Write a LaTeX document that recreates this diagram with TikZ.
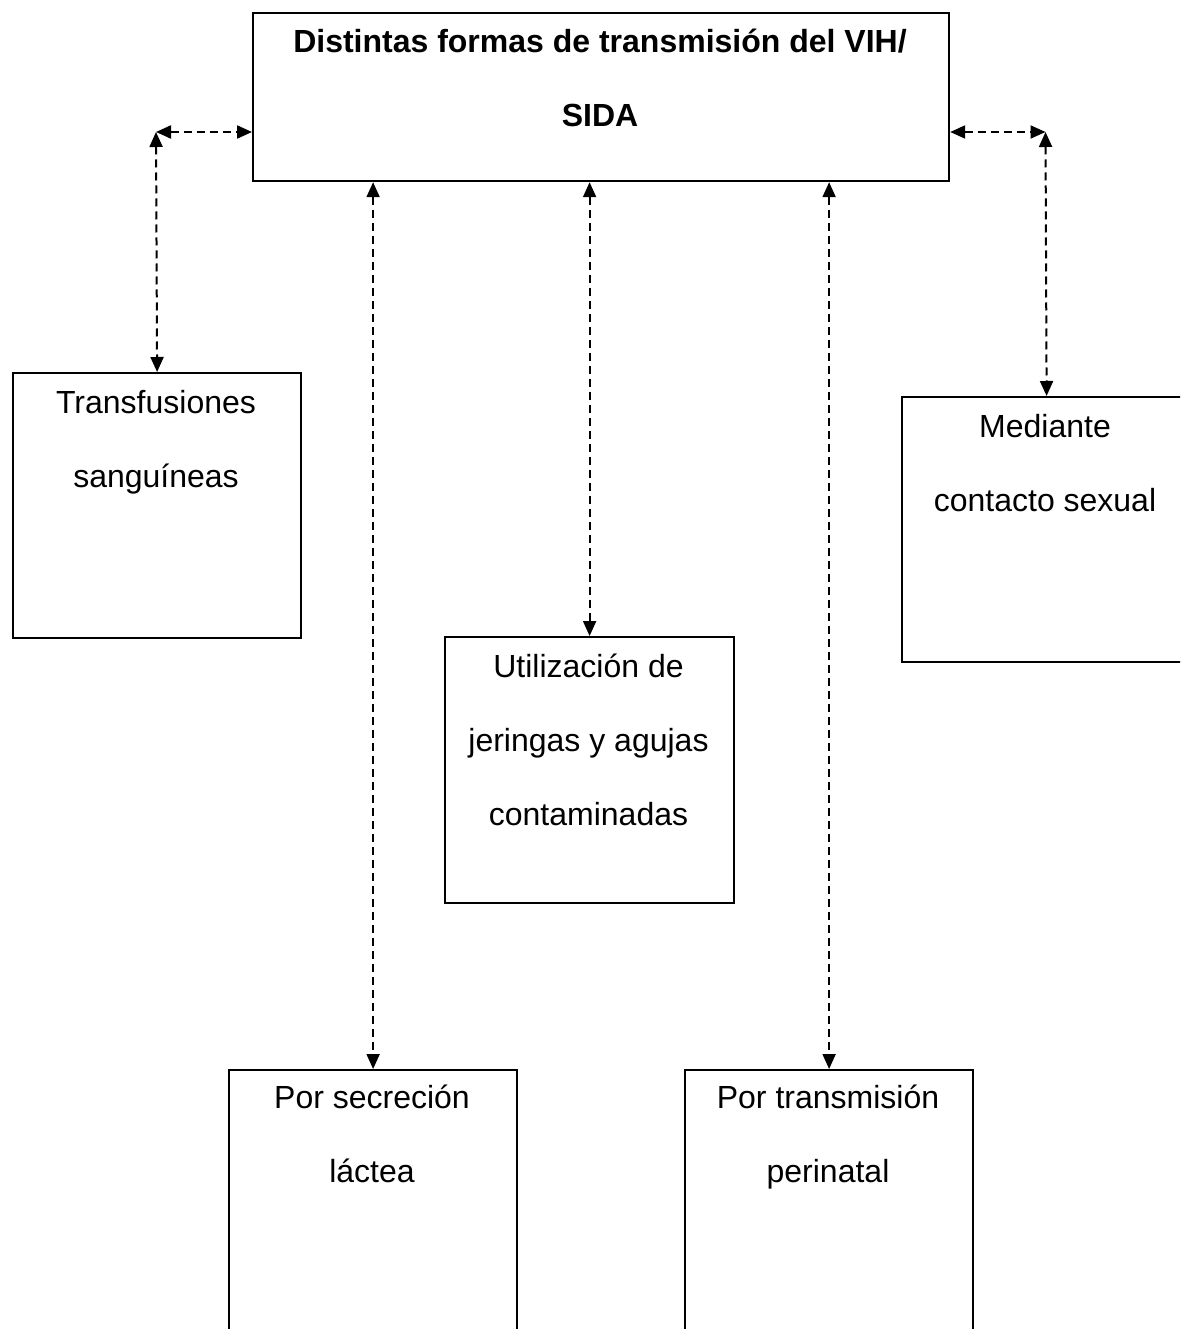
\documentclass[tikz,border=0pt]{standalone}
\usepackage{fontspec}
\setmainfont{Liberation Sans}
\usetikzlibrary{arrows.meta}

\begin{document}
\begin{tikzpicture}[x=1pt,y=-1pt,
  box/.style={draw=black, line width=2.2pt, inner sep=0pt, anchor=north west},
  txt/.style={inner sep=0pt, anchor=base, font=\fontsize{32}{38}\selectfont},
  ttl/.style={txt, font=\fontsize{32}{38}\selectfont\bfseries},
  conn/.style={line width=2pt, dash pattern=on 8pt off 5pt,
    {Triangle[length=15pt,width=13pt]}-{Triangle[length=15pt,width=13pt]}}
]
\useasboundingbox (0,0) rectangle (1180,1329);
\fill[white] (0,0) rectangle (1180,1329);
\clip (0,0) rectangle (1180,1329);

% boxes
\node[box, minimum width=696pt, minimum height=168pt] (top) at (252,12) {};
\node[box, minimum width=288pt, minimum height=265pt] (sangre) at (12,372) {};
\node[box, minimum width=289pt, minimum height=265pt] (sexual) at (901,396) {};
\node[box, minimum width=289pt, minimum height=266pt] (jeringas) at (444,636) {};
\node[box, minimum width=288pt, minimum height=265pt] (lactea) at (228,1069) {};
\node[box, minimum width=288pt, minimum height=265pt] (perinatal) at (684,1069) {};

% texts
\node[ttl] (t1) at (600,53) {Distintas formas de transmisión del VIH/};
\node[ttl] (t2) at (600,127) {SIDA};
\node[txt] (s1) at (156,413) {Transfusiones};
\node[txt] (s2) at (156,487) {sanguíneas};
\node[txt] (x1) at (1045,437) {Mediante};
\node[txt] (x2) at (1045,511) {contacto sexual};
\node[txt] (j1) at (588.5,677) {Utilización de};
\node[txt] (j2) at (588.5,751) {jeringas y agujas};
\node[txt] (j3) at (588.5,825) {contaminadas};
\node[txt] (l1) at (372,1108) {Por secreción};
\node[txt] (l2) at (372,1182) {láctea};
\node[txt] (p1) at (828,1108) {Por transmisión};
\node[txt] (p2) at (828,1182) {perinatal};

% connectors
\coordinate (cl) at (156,132);
\coordinate (cr) at (1045.5,132);
\draw[conn] (cl) -- (cl -| top.west);
\draw[conn] (cl) -- (sangre.north);
\draw[conn] (cr -| top.east) -- (cr);
\draw[conn] (cr) -- (sexual.north);
\draw[conn] (top.south -| lactea.north) -- (lactea.north);
\draw[conn] (top.south -| jeringas.north) -- (jeringas.north);
\draw[conn] (top.south -| perinatal.north) -- (perinatal.north);
\end{tikzpicture}
\end{document}
